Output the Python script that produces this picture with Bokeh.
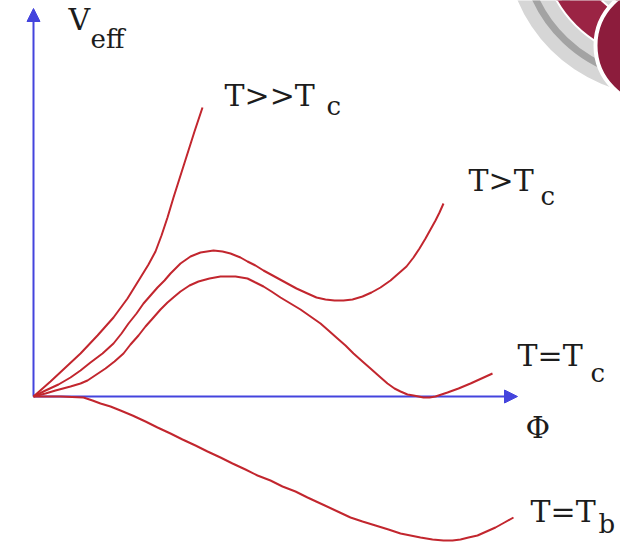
from bokeh.plotting import figure
from bokeh.models import Range1d, Arrow, NormalHead
from bokeh.core.properties import value
from bokeh.embed import file_html
from bokeh.resources import INLINE

# ---- data (phi, V_eff) ----
phi_hh = [0, 17, 32, 47, 64, 80, 94, 107, 115, 122, 128, 134, 140, 147, 154, 161, 169]
v_hh = [0, 15, 29, 43, 61, 79, 98, 119, 132, 145, 161, 179, 199, 221, 243, 265, 289]

phi_gt = [0, 12, 25, 37, 47, 57, 69, 80, 88, 95, 103, 110, 117, 124, 131, 137, 147, 157,
          167, 180, 189, 197, 207, 214, 222, 230, 241, 252, 263, 274, 283, 292, 301, 310,
          319, 329, 338, 347, 357, 365, 373, 380, 386, 392, 397, 402, 406, 410]
v_gt = [0, 6, 12, 19, 26, 34, 43, 53, 63, 73, 83, 93, 101, 109, 116, 123, 133, 140,
        144, 146, 145, 143, 139, 135, 131, 126, 120, 114, 108, 103, 99, 97, 96, 96,
        97, 100, 104, 109, 116, 123, 130, 139, 148, 158, 167, 176, 184, 193]

phi_c = [0, 12, 22, 37, 47, 54, 63, 72, 81, 90, 97, 105, 112, 120, 127, 134, 141, 147,
         156, 165, 176, 187, 195, 202, 208, 214, 222, 230, 238, 247, 257, 267, 277, 287,
         295, 304, 312, 320, 329, 337, 346, 354, 361, 367, 374, 380, 385, 390, 396, 402,
         408, 414, 425, 437, 448, 459]
v_c = [0, 3, 6, 10, 13, 16, 22, 28, 35, 43, 52, 61, 70, 79, 87, 94, 100, 105,
       111, 115, 118, 120, 120, 120, 119, 118, 114, 110, 105, 99, 93, 87, 80, 73,
       66, 58, 51, 43, 35, 28, 20, 13, 8, 5, 2, 1, 0, -1, -1, 0,
       2, 4, 8, 13, 18, 23]

phi_b = [0, 27, 50, 59, 67, 77, 87, 99, 112, 124, 137, 149, 162, 174, 187, 199, 212,
         224, 237, 249, 262, 274, 287, 302, 317, 329, 342, 355, 367, 377, 387, 399,
         410, 419, 427, 435, 444, 453, 462, 471, 480]
v_b = [0, 0, -1, -4, -7, -10, -14, -19, -25, -31, -37, -43, -49, -55, -61, -67, -73,
       -79, -84, -90, -95, -101, -107, -114, -121, -125, -129, -133, -137, -139, -141, -143,
       -144, -144, -143, -141, -139, -135, -131, -126, -121]

axis_end_phi = 484
axis_end_v = 388

label_main = ["T>>T", "T>T", "T=T", "T=T", "Φ", "V"]
label_x = [191, 435, 484, 497, 492, 35]
label_y = [301, 216, 41, -115, -31, 377]
sub_text = ["c", "c", "c", "b", "eff"]
sub_x = [293, 507, 557, 565, 57]
sub_y = [291, 201, 24, -127, 358]

FONT = "DejaVu Serif"
RED = "#c2262e"
BLUE = "#4444dd"
TXT = "#1c1c1c"

p = figure(width=620, height=545, x_range=Range1d(-33, 587), y_range=Range1d(-149, 396),
           output_backend="svg", toolbar_location=None, min_border=0,
           x_axis_type=None, y_axis_type=None)
p.grid.visible = False
p.outline_line_color = None
p.background_fill_color = "white"

# ---- decorative corner logo ----
p.circle(x=[627], y=[456], radius=155, fill_color="#d6d6d6", line_color=None)
p.arc(x=[627, 627], y=[456, 456], radius=[138, 112], start_angle=[3.5, 3.55],
      end_angle=[4.4, 4.45], line_color="#a3a3a3", line_width=7)
p.annular_wedge(x=[627], y=[456], inner_radius=84, outer_radius=120,
                start_angle=3.62, end_angle=4.2, fill_color="#9b2444", line_color="white",
                line_width=2)
p.circle(x=[622], y=[351], radius=60, fill_color="#8c1c3c", line_color="white", line_width=4)

# ---- axes ----
p.add_layout(Arrow(end=NormalHead(size=13, fill_color=BLUE, line_color=BLUE),
                   x_start=0, y_start=0, x_end=axis_end_phi, y_end=0,
                   line_color=BLUE, line_width=2, level="underlay"))
p.add_layout(Arrow(end=NormalHead(size=13, fill_color=BLUE, line_color=BLUE),
                   x_start=0, y_start=0, x_end=0, y_end=axis_end_v,
                   line_color=BLUE, line_width=2, level="underlay"))

# ---- curves ----
for xs, ys in [(phi_hh, v_hh), (phi_gt, v_gt), (phi_c, v_c), (phi_b, v_b)]:
    p.line(xs, ys, line_color=RED, line_width=2, line_join="round")

# ---- labels ----
p.text(x=label_x, y=label_y, text=label_main, text_font=value(FONT),
       text_font_size="30px", text_baseline="alphabetic", text_align="left", text_color=TXT)
p.text(x=sub_x, y=sub_y, text=sub_text, text_font=value(FONT),
       text_font_size="26px", text_baseline="alphabetic", text_align="left", text_color=TXT)

open("out.html", "w").write(file_html(p, INLINE))
